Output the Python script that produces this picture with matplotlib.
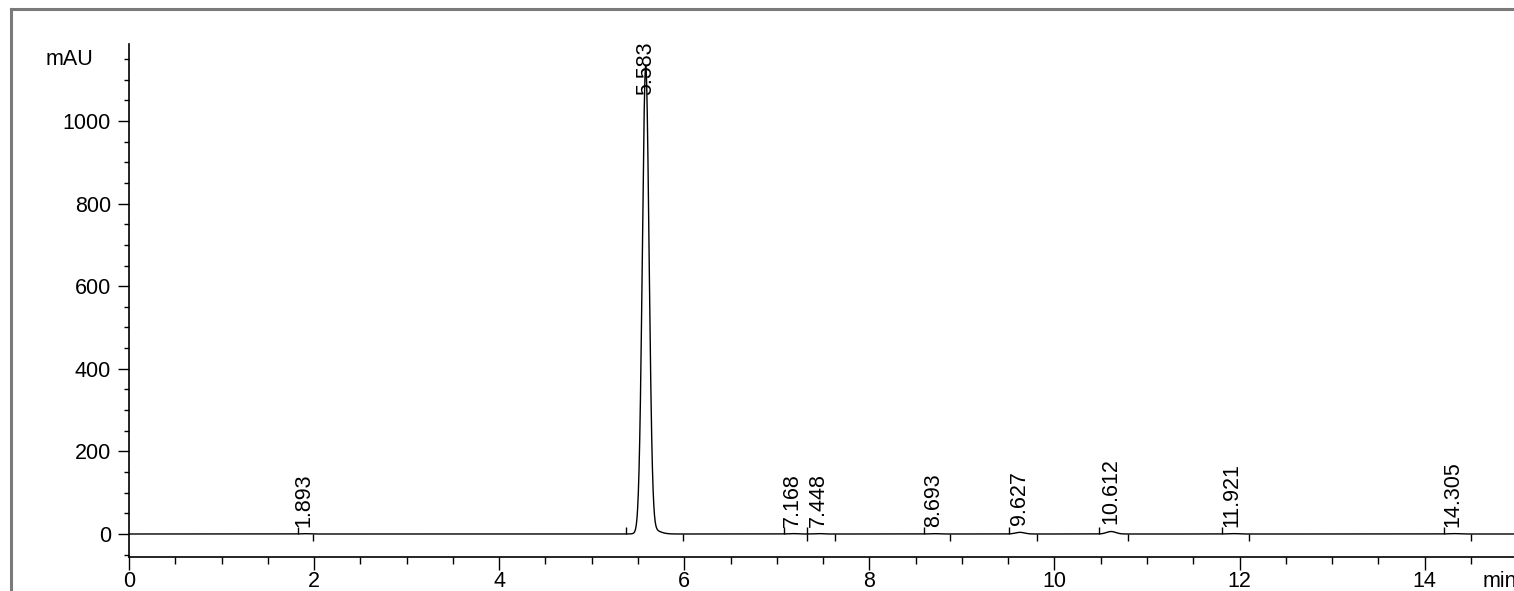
import numpy as np
import matplotlib
matplotlib.use("Agg")
import matplotlib.pyplot as plt
from matplotlib.lines import Line2D
from matplotlib.ticker import MultipleLocator

plt.rcParams['font.family'] = ['Liberation Sans', 'DejaVu Sans']

# ---- data ----
peak_rt = [1.893, 5.583, 7.168, 7.448, 8.693, 9.627, 10.612, 11.921, 14.305]
peak_height = [0.8, 1125.0, 1.0, 1.0, 0.8, 4.0, 6.0, 1.0, 1.0]
peak_sigma = [0.04, 0.036, 0.04, 0.04, 0.04, 0.05, 0.05, 0.05, 0.05]
peak_start = [1.83, 5.37, 7.08, 7.33, 8.59, 9.51, 10.48, 11.81, 14.21]
peak_end = [1.99, 5.99, 7.33, 7.63, 8.87, 9.81, 10.79, 12.10, 14.50]
# small tailing component of the main peak
tail_rt = [5.64]
tail_height = [12.0]
tail_sigma = [0.08]

x_ticks = [0, 2, 4, 6, 8, 10, 12, 14]
y_ticks = [0, 200, 400, 600, 800, 1000]

# ---- figure ----
W, H = 1514, 591
fig = plt.figure(figsize=(W / 100, H / 100), dpi=100)
x0_px, xb_px, yt_px = 129, 557, 44
ax = fig.add_axes([x0_px / W, (H - xb_px) / H, 1 - x0_px / W, (xb_px - yt_px) / H])

t = np.linspace(0, 15.2, 6000)
signal = np.zeros_like(t)
for rt, h, s in zip(peak_rt + tail_rt, peak_height + tail_height, peak_sigma + tail_sigma):
    signal += h * np.exp(-0.5 * ((t - rt) / s) ** 2)

ax.plot(t, signal, color='black', lw=1.0, clip_on=True)

ax.set_xlim(0, 14.965)
ax.set_ylim(-55.7, 1186.4)

ax.spines['top'].set_visible(False)
ax.spines['right'].set_visible(False)
for sp in ('left', 'bottom'):
    ax.spines[sp].set_linewidth(1.2)

ax.set_xticks(x_ticks)
ax.set_yticks(y_ticks)
ax.xaxis.set_minor_locator(MultipleLocator(0.5))
ax.yaxis.set_minor_locator(MultipleLocator(50))
ax.tick_params(axis='x', which='major', direction='out', length=9.4, width=1.0,
               labelsize=15.5, pad=0.8)
ax.tick_params(axis='x', which='minor', direction='out', length=5, width=1.0)
ax.tick_params(axis='y', which='major', direction='out', length=8, width=1.0,
               labelsize=15.5, pad=5)
ax.tick_params(axis='y', which='minor', direction='out', length=3.8, width=1.0)

# integration markers
mark = 17
ax.vlines(peak_start, 0, mark, color='black', lw=1.0)
ax.vlines(peak_end, -mark, 0, color='black', lw=1.0)

# peak labels
for rt, h in zip(peak_rt, peak_height):
    if h > 500:
        ax.text(rt, 1193, f"{rt:.3f}", rotation=90, ha='center', va='top',
                fontsize=15.5, clip_on=False)
    else:
        ax.text(rt, h + 17, f"{rt:.3f}", rotation=90, ha='center', va='bottom',
                fontsize=15.5)

# axis unit labels
ax.text(-0.385, 1150, "mAU", ha='right', va='center', fontsize=15.5)
ax.text(14.62, -55.7, "min", ha='left', va='top', fontsize=15.5,
        transform=ax.transData, clip_on=False)
ax.texts[-1].set_y(-55.7 - 14 * (1186.4 + 55.7) / (xb_px - yt_px))

# outer frame
fc = '#7a7a7a'
fig.add_artist(Line2D([11 / W, 11 / W], [0, 1 - 9 / H], color=fc, lw=2.2))
fig.add_artist(Line2D([11 / W, 1], [1 - 9 / H, 1 - 9 / H], color=fc, lw=2.2))

fig.savefig('out.png', dpi=100)
